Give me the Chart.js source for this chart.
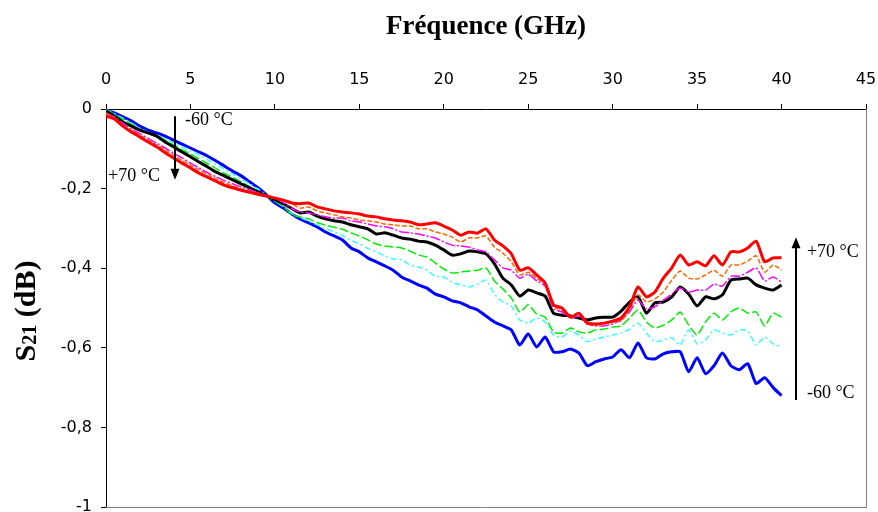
<!DOCTYPE html>
<html>
<head>
<meta charset="utf-8">
<script src="https://cdn.jsdelivr.net/npm/chart.js@4.4.0/dist/chart.umd.min.js"></script>
<style>
  html, body { margin: 0; padding: 0; background: #fff; }
  canvas { display: block; }
</style>
</head>
<body>
<canvas id="s21Chart" width="878" height="512"></canvas>
<script>
// Frequency grid (GHz)
const freqs = [0,0.5,1,1.5,2,2.5,3,3.5,4,4.5,5,5.5,6,6.5,7,7.5,8,8.5,9,9.5,10,
  10.5,11,11.5,12,12.5,13,13.5,14,14.5,15,15.5,16,16.5,17,17.5,18,18.5,19,19.5,20,
  20.5,21,21.5,22,22.5,23,23.5,24,24.5,25,25.5,26,26.5,27,27.5,28,28.5,29,29.5,30,
  30.5,31,31.5,32,32.5,33,33.5,34,34.5,35,35.5,36,36.5,37,37.5,38,38.5,39,39.5,40];

// S21 (dB), one array per temperature, -60 °C ... +70 °C
const sMinus60 = [-0.003,-0.010,-0.020,-0.030,-0.043,-0.053,-0.060,-0.068,-0.078,-0.088,-0.098,-0.108,-0.118,-0.130,-0.143,-0.156,-0.168,-0.183,-0.198,-0.216,-0.236,
  -0.249,-0.264,-0.277,-0.286,-0.296,-0.309,-0.319,-0.329,-0.349,-0.359,-0.374,-0.384,-0.394,-0.405,-0.422,-0.432,-0.442,-0.450,-0.465,-0.472,
  -0.482,-0.487,-0.497,-0.505,-0.520,-0.535,-0.545,-0.555,-0.593,-0.565,-0.598,-0.573,-0.610,-0.610,-0.603,-0.613,-0.645,-0.635,-0.628,-0.623,
  -0.605,-0.625,-0.588,-0.625,-0.628,-0.615,-0.610,-0.610,-0.660,-0.625,-0.665,-0.645,-0.613,-0.645,-0.655,-0.640,-0.690,-0.675,-0.700,-0.720];
const sMinus40 = [-0.002,-0.012,-0.023,-0.035,-0.048,-0.058,-0.066,-0.075,-0.085,-0.095,-0.106,-0.116,-0.127,-0.139,-0.151,-0.163,-0.175,-0.188,-0.201,-0.216,-0.232,
  -0.245,-0.262,-0.272,-0.282,-0.291,-0.300,-0.309,-0.318,-0.330,-0.338,-0.350,-0.359,-0.369,-0.377,-0.379,-0.392,-0.397,-0.405,-0.420,-0.422,
  -0.435,-0.442,-0.447,-0.440,-0.430,-0.465,-0.485,-0.495,-0.530,-0.538,-0.525,-0.535,-0.568,-0.573,-0.558,-0.568,-0.585,-0.578,-0.573,-0.568,
  -0.563,-0.553,-0.538,-0.563,-0.585,-0.580,-0.575,-0.593,-0.555,-0.590,-0.580,-0.555,-0.563,-0.568,-0.555,-0.558,-0.593,-0.573,-0.590,-0.598];
const sMinus20 = [-0.003,-0.013,-0.026,-0.038,-0.050,-0.060,-0.068,-0.078,-0.090,-0.102,-0.113,-0.125,-0.137,-0.149,-0.161,-0.172,-0.183,-0.195,-0.207,-0.219,-0.232,
  -0.244,-0.266,-0.271,-0.276,-0.285,-0.292,-0.297,-0.302,-0.311,-0.319,-0.329,-0.339,-0.344,-0.347,-0.349,-0.357,-0.367,-0.372,-0.387,-0.402,
  -0.412,-0.410,-0.407,-0.405,-0.399,-0.432,-0.452,-0.475,-0.510,-0.492,-0.515,-0.523,-0.560,-0.563,-0.550,-0.560,-0.563,-0.555,-0.553,-0.548,
  -0.545,-0.525,-0.505,-0.535,-0.550,-0.543,-0.530,-0.510,-0.543,-0.568,-0.535,-0.513,-0.530,-0.510,-0.500,-0.513,-0.510,-0.545,-0.513,-0.523];
const sPlus20 = [-0.005,-0.018,-0.033,-0.043,-0.053,-0.060,-0.068,-0.083,-0.095,-0.108,-0.120,-0.133,-0.145,-0.158,-0.168,-0.178,-0.188,-0.198,-0.208,-0.218,-0.228,
  -0.238,-0.250,-0.261,-0.259,-0.269,-0.276,-0.281,-0.284,-0.291,-0.296,-0.301,-0.314,-0.311,-0.317,-0.324,-0.327,-0.332,-0.334,-0.342,-0.354,
  -0.367,-0.364,-0.357,-0.359,-0.364,-0.389,-0.425,-0.442,-0.470,-0.455,-0.462,-0.470,-0.513,-0.518,-0.520,-0.525,-0.530,-0.525,-0.523,-0.523,
  -0.508,-0.485,-0.472,-0.513,-0.487,-0.485,-0.472,-0.447,-0.465,-0.495,-0.472,-0.477,-0.467,-0.430,-0.427,-0.425,-0.442,-0.450,-0.455,-0.442];
const sPlus40 = [-0.012,-0.020,-0.036,-0.050,-0.062,-0.074,-0.086,-0.098,-0.111,-0.123,-0.136,-0.148,-0.160,-0.170,-0.180,-0.188,-0.196,-0.203,-0.210,-0.217,-0.224,
  -0.235,-0.250,-0.259,-0.261,-0.266,-0.271,-0.274,-0.274,-0.281,-0.284,-0.289,-0.294,-0.296,-0.301,-0.309,-0.311,-0.314,-0.319,-0.324,-0.334,
  -0.342,-0.344,-0.347,-0.354,-0.359,-0.379,-0.399,-0.405,-0.425,-0.415,-0.432,-0.445,-0.502,-0.510,-0.525,-0.520,-0.540,-0.545,-0.545,-0.540,
  -0.530,-0.510,-0.480,-0.502,-0.497,-0.480,-0.465,-0.450,-0.460,-0.455,-0.455,-0.440,-0.445,-0.420,-0.420,-0.410,-0.399,-0.432,-0.422,-0.435];
const sPlus55 = [-0.010,-0.022,-0.040,-0.053,-0.066,-0.078,-0.090,-0.103,-0.116,-0.129,-0.141,-0.153,-0.164,-0.175,-0.185,-0.193,-0.200,-0.206,-0.212,-0.217,-0.222,
  -0.228,-0.238,-0.249,-0.246,-0.256,-0.261,-0.266,-0.271,-0.274,-0.279,-0.281,-0.284,-0.289,-0.291,-0.294,-0.294,-0.301,-0.301,-0.309,-0.314,
  -0.322,-0.334,-0.324,-0.324,-0.319,-0.347,-0.362,-0.384,-0.417,-0.410,-0.425,-0.442,-0.497,-0.505,-0.523,-0.515,-0.538,-0.543,-0.540,-0.535,
  -0.533,-0.505,-0.467,-0.485,-0.477,-0.460,-0.430,-0.407,-0.425,-0.427,-0.417,-0.405,-0.420,-0.392,-0.392,-0.382,-0.369,-0.410,-0.392,-0.405];
const sPlus70 = [-0.018,-0.025,-0.043,-0.058,-0.070,-0.083,-0.095,-0.110,-0.123,-0.136,-0.148,-0.161,-0.171,-0.181,-0.191,-0.198,-0.204,-0.209,-0.214,-0.219,-0.224,
  -0.229,-0.236,-0.238,-0.236,-0.246,-0.251,-0.256,-0.259,-0.261,-0.264,-0.269,-0.271,-0.276,-0.279,-0.281,-0.284,-0.291,-0.289,-0.286,-0.294,
  -0.304,-0.317,-0.309,-0.312,-0.301,-0.329,-0.344,-0.364,-0.405,-0.399,-0.417,-0.437,-0.492,-0.500,-0.523,-0.513,-0.538,-0.540,-0.538,-0.533,
  -0.525,-0.497,-0.447,-0.472,-0.460,-0.425,-0.399,-0.367,-0.392,-0.384,-0.394,-0.369,-0.392,-0.359,-0.359,-0.349,-0.332,-0.384,-0.374,-0.374];

const xTicks = [0, 5, 10, 15, 20, 25, 30, 35, 40, 45];
const yTicks = [0, -0.2, -0.4, -0.6, -0.8, -1];

const toPoints = vals => vals.map((v, i) => ({ x: freqs[i], y: v }));

function line(data, color, width, dash, order) {
    return {
        data: toPoints(data),
        borderColor: color,
        borderWidth: width,
        borderDash: dash,
        pointRadius: 0,
        tension: 0.2,
        fill: false,
        order: order
    };
}

// Gray plot-area frame on right and bottom (Excel style)
const framePlugin = {
    id: 'frame',
    beforeDatasetsDraw(chart) {
        const { ctx, chartArea: a } = chart;
        ctx.save();
        ctx.strokeStyle = '#808080';
        ctx.lineWidth = 1;
        ctx.beginPath();
        ctx.moveTo(a.right + 0.5, a.top);
        ctx.lineTo(a.right + 0.5, a.bottom + 0.5);
        ctx.lineTo(a.left, a.bottom + 0.5);
        ctx.stroke();
        ctx.restore();
    }
};

// Rotated y title with subscript
const yTitlePlugin = {
    id: 'yTitle',
    afterDraw(chart) {
        const ctx = chart.ctx;
        const big = 'bold 30px "Liberation Serif"';
        const small = 'bold 20px "Liberation Serif"';
        ctx.save();
        ctx.translate(35, 311);
        ctx.rotate(-Math.PI / 2);
        ctx.fillStyle = '#000';
        ctx.textBaseline = 'alphabetic';
        ctx.font = big;
        const wS = ctx.measureText('S').width;
        const wRest = ctx.measureText(' (dB)').width;
        ctx.font = small;
        const wSub = ctx.measureText('21').width;
        let x = -(wS + wSub + wRest) / 2;
        ctx.font = big;
        ctx.fillText('S', x, 0);
        x += wS;
        ctx.font = small;
        ctx.fillText('21', x, 1);
        x += wSub;
        ctx.font = big;
        ctx.fillText(' (dB)', x, 0);
        ctx.restore();
    }
};

// Arrows and temperature labels
const notesPlugin = {
    id: 'notes',
    afterDatasetsDraw(chart) {
        const { ctx, scales: { x, y } } = chart;
        const arrow = (f, v0, v1) => {
            const px = Math.round(x.getPixelForValue(f));
            const y0 = y.getPixelForValue(v0);
            const y1 = y.getPixelForValue(v1);
            const dir = y1 > y0 ? 1 : -1;
            ctx.save();
            ctx.strokeStyle = '#000';
            ctx.fillStyle = '#000';
            ctx.lineWidth = 2;
            ctx.beginPath();
            ctx.moveTo(px, y0);
            ctx.lineTo(px, y1 - dir * 8);
            ctx.stroke();
            ctx.beginPath();
            ctx.moveTo(px, y1);
            ctx.lineTo(px - 4.5, y1 - dir * 11);
            ctx.lineTo(px + 4.5, y1 - dir * 11);
            ctx.closePath();
            ctx.fill();
            ctx.restore();
        };
        const label = (txt, f, v) => {
            ctx.save();
            ctx.font = '18px "Liberation Serif"';
            ctx.fillStyle = '#000';
            ctx.textAlign = 'left';
            ctx.textBaseline = 'middle';
            ctx.fillText(txt, x.getPixelForValue(f), y.getPixelForValue(v));
            ctx.restore();
        };
        arrow(4.1, -0.018, -0.178);
        label('-60 °C', 4.68, -0.028);
        label('+70 °C', 0.12, -0.168);
        arrow(40.85, -0.731, -0.322);
        label('+70 °C', 41.5, -0.359);
        label('-60 °C', 41.5, -0.714);
    }
};

const ctx = document.getElementById('s21Chart').getContext('2d');
new Chart(ctx, {
    type: 'line',
    data: {
        datasets: [
            line(sMinus60, '#0000ff', 3, [], 6),
            line(sMinus40, '#33ffff', 1.5, [6, 3, 2, 3], 5),
            line(sMinus20, '#00ee00', 1.5, [9, 3], 4),
            line(sPlus20, '#000000', 3, [], 3),
            line(sPlus40, '#ff00ff', 1.5, [10, 2, 2, 2], 2),
            line(sPlus55, '#ff6600', 1.5, [5, 2], 1),
            line(sPlus70, '#ff0000', 3, [], 0)
        ]
    },
    options: {
        responsive: false,
        animation: false,
        devicePixelRatio: 1,
        layout: { padding: { left: 0, right: 12, top: 0, bottom: 5 } },
        plugins: {
            legend: { display: false },
            tooltip: { enabled: false }
        },
        scales: {
            x: {
                type: 'linear',
                position: 'top',
                min: 0,
                max: 45,
                afterBuildTicks: s => { s.ticks = xTicks.map(v => ({ value: v })); },
                afterFit: s => { s.height = 109; s.paddingLeft = 0; s.paddingRight = 0; },
                ticks: {
                    color: '#000',
                    padding: 15,
                    maxRotation: 0,
                    font: { family: 'DejaVu Sans', size: 16 }
                },
                grid: { drawOnChartArea: false, drawTicks: true, tickLength: 5, color: '#000' },
                border: { display: true, color: '#000', width: 1 },
                title: {
                    display: true,
                    text: 'Fréquence (GHz)',
                    color: '#000',
                    font: { family: 'Liberation Serif', size: 27, weight: 'bold' },
                    padding: { top: 11, bottom: 0 }
                }
            },
            y: {
                min: -1,
                max: 0,
                afterBuildTicks: s => { s.ticks = yTicks.map(v => ({ value: v })); },
                afterFit: s => { s.width = 106; s.paddingTop = 0; s.paddingBottom = 0; },
                ticks: {
                    color: '#000',
                    padding: 9,
                    font: { family: 'DejaVu Sans', size: 16 },
                    callback: v => String(Math.round(v * 10) / 10).replace('.', ',')
                },
                grid: { drawOnChartArea: false, drawTicks: true, tickLength: 5, color: '#000' },
                border: { display: true, color: '#000', width: 1 }
            }
        }
    },
    plugins: [framePlugin, yTitlePlugin, notesPlugin]
});
</script>
</body>
</html>
